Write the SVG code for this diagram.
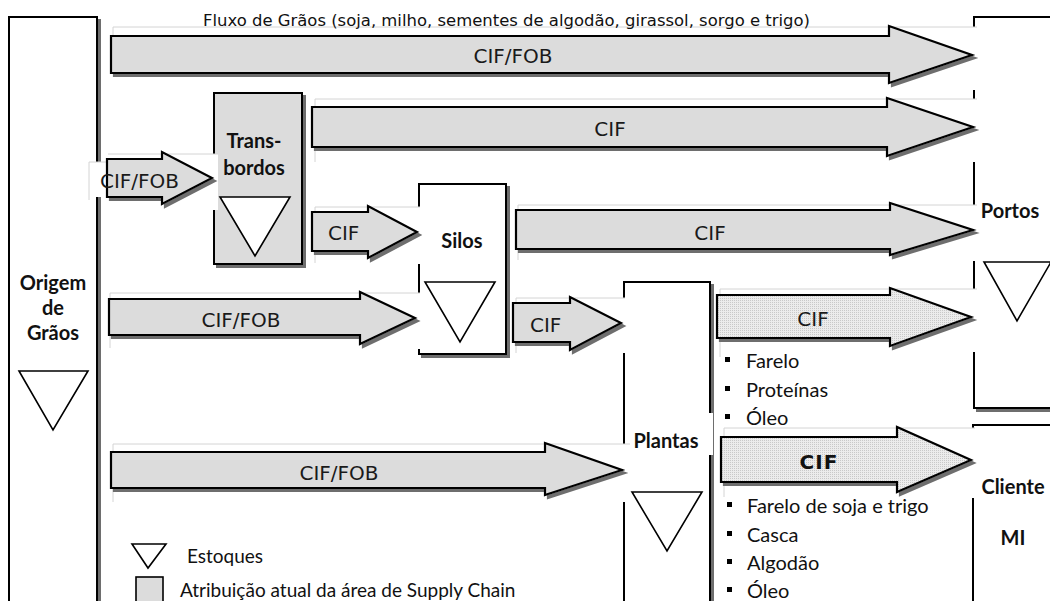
<svg xmlns="http://www.w3.org/2000/svg" width="1050" height="601" viewBox="0 0 1050 601">
<style>
.box{fill:#fff;stroke:#000;stroke-width:2}
.gbox{fill:#dcdcdc;stroke:#000;stroke-width:2}
.tri{fill:#fff;stroke:#000;stroke-width:1.6}
.arr{fill:#dcdcdc;stroke:#000;stroke-width:2.2;stroke-linejoin:miter}
.harr{fill:url(#hatch);stroke:#000;stroke-width:2.2}
.frm{fill:#fff}
.fl{fill:none;stroke:#d4d4d4;stroke-width:1}
.lbl{font-family:"DejaVu Sans",sans-serif;font-size:20px;fill:#1a1a1a}
.bl{font-family:"DejaVu Sans",sans-serif;font-size:20px;font-weight:bold;fill:#111}
.nm{font-family:Lato,"Liberation Sans",sans-serif;font-size:20px;font-weight:bold;fill:#111;text-anchor:middle}
.it{font-family:Lato,"Liberation Sans",sans-serif;font-size:20px;fill:#111}
.lg{font-family:Lato,"Liberation Sans",sans-serif;font-size:19px;fill:#111}
.ttl{font-family:"DejaVu Sans",sans-serif;font-size:15px;fill:#111}
.sq{fill:#000}
</style>
<defs>
<pattern id="hatch" width="2" height="2" patternUnits="userSpaceOnUse">
<rect width="2" height="2" fill="#ececec"/>
<rect width="1" height="1" fill="#c9c9c9"/>
</pattern>
<filter id="sh" x="-5%" y="-5%" width="115%" height="130%">
<feDropShadow dx="3" dy="3" stdDeviation="0.4" flood-color="#6e6e6e" flood-opacity="1"/>
</filter>
</defs>

<g id="origem">
<rect class="box" x="9" y="17" width="88" height="620" filter="url(#sh)"/>
<text class="nm" x="53" y="290">Origem</text>
<text class="nm" x="53" y="315">de</text>
<text class="nm" x="53" y="340">Grãos</text>
<polygon class="tri" points="19,371 88,371 53,430"/>
</g>

<g id="transbordos">
<rect class="gbox" x="214" y="93" width="88" height="171" filter="url(#sh)"/>
<text class="nm" x="254" y="148">Trans-</text>
<text class="nm" x="254" y="175">bordos</text>
<polygon class="tri" points="220,197 290,197 255,256"/>
</g>

<g id="silos">
<rect class="box" x="419" y="184" width="87" height="170" filter="url(#sh)"/>
<text class="nm" x="462" y="248">Silos</text>
<polygon class="tri" points="425,282 495,282 460,342"/>
</g>

<g id="plantas">
<rect class="box" x="624" y="282" width="86" height="340" filter="url(#sh)"/>
<text class="nm" x="666" y="448">Plantas</text>
<polygon class="tri" points="632,492 702,492 667,551"/>
</g>

<g id="portos">
<rect class="box" x="974" y="17" width="90" height="391" filter="url(#sh)"/>
<polygon class="tri" points="984,262 1051,262 1017,321"/>
</g>

<g id="cliente">
<rect class="box" x="973" y="425" width="90" height="200"/>
</g>

<g id="frames">
<rect class="frm" x="113" y="27" width="864" height="63"/>
<polyline class="fl" points="113,40 113,27 977,27"/>
<rect class="frm" x="315" y="99" width="662" height="63"/>
<polyline class="fl" points="315,162 315,99 977,99"/>
<rect class="frm" x="89" y="162" width="20" height="35"/>
<rect class="frm" x="108" y="154" width="110" height="56"/>
<polyline class="fl" points="89,200 89,162 108,162"/>
<polyline class="fl" points="108,154 218,154"/>
<rect class="frm" x="314" y="207" width="108" height="57"/>
<polyline class="fl" points="315,263 315,207 420,207"/>
<rect class="frm" x="518" y="205" width="459" height="56"/>
<polyline class="fl" points="518,260 518,205 977,205"/>
<rect class="frm" x="110" y="293" width="312" height="56"/>
<polyline class="fl" points="110,348 110,293 420,293"/>
<rect class="frm" x="516" y="298" width="110" height="55"/>
<polyline class="fl" points="516,353 516,298 625,298"/>
<rect class="frm" x="720" y="289" width="257" height="63"/>
<polyline class="fl" points="720,357 720,289 977,289"/>
<rect class="frm" x="707" y="413" width="6" height="42"/>
<rect class="frm" x="113" y="444" width="513" height="58"/>
<polyline class="fl" points="113,502 113,444 630,444"/>
<rect class="frm" x="724" y="428" width="253" height="70"/>
<polyline class="fl" points="724,497 724,428 975,428"/>
</g>

<text class="ttl" x="203" y="26" textLength="607" lengthAdjust="spacingAndGlyphs">Fluxo de Grãos (soja, milho, sementes de algodão, girassol, sorgo e trigo)</text>

<g id="portos-label">
<text class="nm" x="1010" y="218">Portos</text>
</g>
<g id="cliente-label">
<text class="nm" x="1013" y="494">Cliente</text>
<text class="nm" x="1013" y="545">MI</text>
</g>

<g id="connectors">
<polygon class="arr" filter="url(#sh)" points="111,36 889,36 889,26 972,55 889,83 889,73 111,73"/>
<polygon class="arr" filter="url(#sh)" points="107,159 162,159 162,152 212,178 162,204 162,197 107,197"/>
<polygon class="arr" filter="url(#sh)" points="312,107 887,107 887,98 973,127 887,156 887,147 312,147"/>
<polygon class="arr" filter="url(#sh)" points="312,212 368,212 368,206 417,232 368,258 368,251 312,251"/>
<polygon class="arr" filter="url(#sh)" points="516,210 890,210 890,203 973,230 890,255 890,249 516,249"/>
<polygon class="arr" filter="url(#sh)" points="109,299 360,299 360,292 415,318 360,344 360,335 109,335"/>
<polygon class="arr" filter="url(#sh)" points="513,303 570,303 570,297 621,323 570,350 570,342 513,342"/>
<polygon class="harr" filter="url(#sh)" points="717,295 890,295 890,288 971,317 890,346 890,338 717,338"/>
<polygon class="arr" filter="url(#sh)" points="111,452 545,452 545,443 622,470 545,495 545,488 111,488"/>
<polygon class="harr" filter="url(#sh)" points="721,437 897,437 897,427 971,460 897,492 897,482 721,482"/>

<text class="lbl" x="513" y="63" text-anchor="middle">CIF/FOB</text>
<text class="lbl" x="100" y="188">CIF/FOB</text>
<text class="lbl" x="610" y="136" text-anchor="middle">CIF</text>
<text class="lbl" x="328" y="240">CIF</text>
<text class="lbl" x="710" y="240" text-anchor="middle">CIF</text>
<text class="lbl" x="241" y="327" text-anchor="middle">CIF/FOB</text>
<text class="lbl" x="530" y="332">CIF</text>
<text class="lbl" x="813" y="326" text-anchor="middle">CIF</text>
<text class="lbl" x="339" y="480" text-anchor="middle">CIF/FOB</text>
<text class="bl" x="819" y="469" text-anchor="middle" letter-spacing="1">CIF</text>
</g>

<g id="products-portos">
<rect class="sq" x="725" y="357" width="5" height="5"/>
<text class="it" x="746" y="368">Farelo</text>
<rect class="sq" x="725" y="386" width="5" height="5"/>
<text class="it" x="746" y="397">Proteínas</text>
<rect class="sq" x="725" y="414" width="5" height="5"/>
<text class="it" x="746" y="425">Óleo</text>
</g>

<g id="products-cliente">
<rect class="sq" x="727" y="502" width="5" height="5"/>
<text class="it" x="747" y="513">Farelo de soja e trigo</text>
<rect class="sq" x="727" y="531" width="5" height="5"/>
<text class="it" x="747" y="542">Casca</text>
<rect class="sq" x="727" y="559" width="5" height="5"/>
<text class="it" x="747" y="570">Algodão</text>
<rect class="sq" x="727" y="587" width="5" height="5"/>
<text class="it" x="747" y="598">Óleo</text>
</g>

<g id="legend">
<polygon class="tri" points="132,544 166,544 148,568"/>
<text class="lg" x="187" y="563">Estoques</text>
<rect class="gbox" x="136" y="577" width="27" height="27" style="stroke-width:1.6"/>
<text class="lg" x="180" y="597">Atribuição atual da área de Supply Chain</text>
</g>
</svg>
